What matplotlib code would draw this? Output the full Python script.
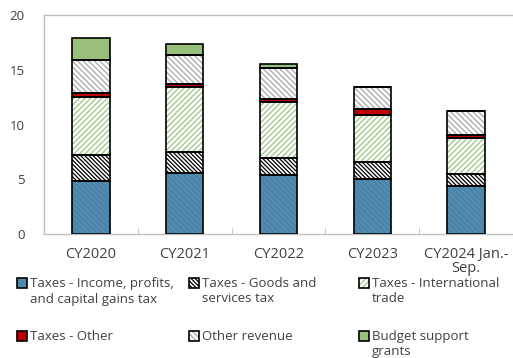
import matplotlib
matplotlib.use('Agg')
import matplotlib.pyplot as plt
from matplotlib.patches import Rectangle
import numpy as np

plt.rcParams['font.family'] = ['Open Sans', 'DejaVu Sans']
plt.rcParams['hatch.linewidth'] = 0.9

# data
categories = ['CY2020', 'CY2021', 'CY2022', 'CY2023', 'CY2024 Jan.-\nSep.']
income_tax = [4.9, 5.55, 5.4, 5.05, 4.4]
goods_services_tax = [2.3, 1.95, 1.55, 1.5, 1.1]
intl_trade_tax = [5.35, 5.9, 5.1, 4.3, 3.3]
other_tax = [0.35, 0.35, 0.25, 0.6, 0.27]
other_revenue = [3.0, 2.65, 2.9, 1.95, 2.2]
budget_grants = [2.05, 1.0, 0.3, 0.0, 0.0]

series_names = ['Taxes - Income, profits,\nand capital gains tax',
                'Taxes - Goods and\nservices tax',
                'Taxes - International\ntrade',
                'Taxes - Other',
                'Other revenue',
                'Budget support\ngrants']
series = [income_tax, goods_services_tax, intl_trade_tax,
          other_tax, other_revenue, budget_grants]

# (face, hatch, hatch colour)
styles = [
    ('#4a84a8', '\\' * 6, '#5790b3'),
    ('white', '\\' * 8, 'black'),
    ('white', '/' * 6, '#9cc483'),
    ('#c00000', '', '#c00000'),
    ('white', '\\' * 6, '#a6a6a6'),
    ('#98bf7c', '', '#98bf7c'),
]

text_col = '#404040'
grid_col = '#bfbfbf'

fig = plt.figure(figsize=(5.13, 3.58), dpi=100)
ax = fig.add_axes([0.0858, 0.3455, 0.9142, 0.6125])

x = np.arange(len(categories))
bottom = np.zeros(len(categories))
for vals, (face, hatch, hcol) in zip(series, styles):
    vals = np.array(vals)
    ax.bar(x, vals, 0.4, bottom=bottom, color=face, hatch=hatch,
           edgecolor=hcol, linewidth=0, zorder=2)
    ax.bar(x, vals, 0.4, bottom=bottom, fill=False,
           edgecolor='black', linewidth=1.2, zorder=3)
    bottom += vals

ax.set_xlim(-0.5, len(categories) - 0.5)
ax.set_ylim(0, 20)
ax.set_yticks([0, 5, 10, 15, 20])
ax.set_xticks(x)
ax.set_xticklabels(categories, linespacing=0.95)
ax.set_xticks(np.arange(len(categories) - 1) + 0.5, minor=True)
ax.tick_params(axis='x', which='major', length=0, pad=9,
               labelsize=10.5, labelcolor=text_col)
ax.tick_params(axis='x', which='minor', direction='in', length=4,
               color=grid_col)
ax.tick_params(axis='y', length=0, pad=14, labelsize=9.5,
               labelcolor=text_col)
for s in ['left', 'bottom', 'top']:
    ax.spines[s].set_color(grid_col)
    ax.spines[s].set_linewidth(1.0)
ax.spines['right'].set_visible(False)

# legend, laid out like the reference: 3 columns, text top-aligned
col_x = [17, 189, 359]
row_y = [283, 336]
W, H = 513.0, 358.0
for i, (name, (face, hatch, hcol)) in enumerate(zip(series_names, styles)):
    cx = col_x[i % 3]
    cy = row_y[i // 3]
    fig.patches.append(Rectangle((cx / W, (H - cy - 5) / H), 10 / W, 10 / H,
                                 transform=fig.transFigure, facecolor=face,
                                 hatch=hatch, edgecolor=hcol, linewidth=0))
    fig.patches.append(Rectangle((cx / W, (H - cy - 5) / H), 10 / W, 10 / H,
                                 transform=fig.transFigure, fill=False,
                                 edgecolor='black', linewidth=1.2))
    fig.text((cx + 13) / W, (H - cy + 6) / H, name, ha='left', va='top',
             fontsize=9.5, color=text_col, linespacing=1.25)

fig.savefig('out.png', dpi=100)
